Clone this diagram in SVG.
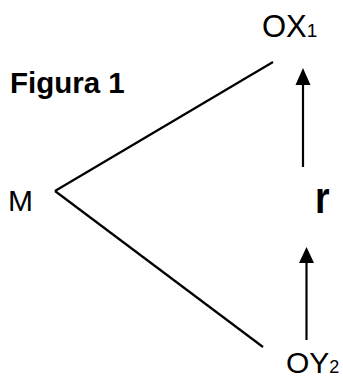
<svg xmlns="http://www.w3.org/2000/svg" width="343" height="377" viewBox="0 0 343 377">
<defs>
<style>
.t{font-family:"Liberation Sans",Arial,sans-serif;fill:#000}
.ln{stroke:#000;stroke-width:2.2;fill:none}
.head{fill:#000}
</style>
</defs>
<rect width="343" height="377" fill="#fff"/>
<g id="title"><text class="t" x="10" y="93" font-size="29.5" font-weight="bold">Figura 1</text></g>
<g id="M"><text class="t" x="8" y="211" font-size="30">M</text></g>
<g id="OX1"><text class="t" x="262" y="37" font-size="31">OX<tspan font-size="19">1</tspan></text></g>
<g id="OY2"><text class="t" x="286" y="373" font-size="30">OY<tspan font-size="18">2</tspan></text></g>
<g id="r"><text class="t" x="315" y="213" font-size="44" font-weight="bold" transform="translate(315 0) scale(0.85 1) translate(-315 0)">r</text></g>
<g id="connectors">
<line class="ln" x1="55" y1="191" x2="273" y2="62"/>
<line class="ln" x1="55" y1="191" x2="263" y2="347"/>
<line class="ln" x1="303" y1="167" x2="303" y2="80"/>
<path class="head" d="M303 68 L310.5 85 L295.5 85 Z"/>
<line class="ln" x1="306.5" y1="340" x2="306.5" y2="258"/>
<path class="head" d="M306.5 247 L314 263 L299 263 Z"/>
</g>
</svg>
